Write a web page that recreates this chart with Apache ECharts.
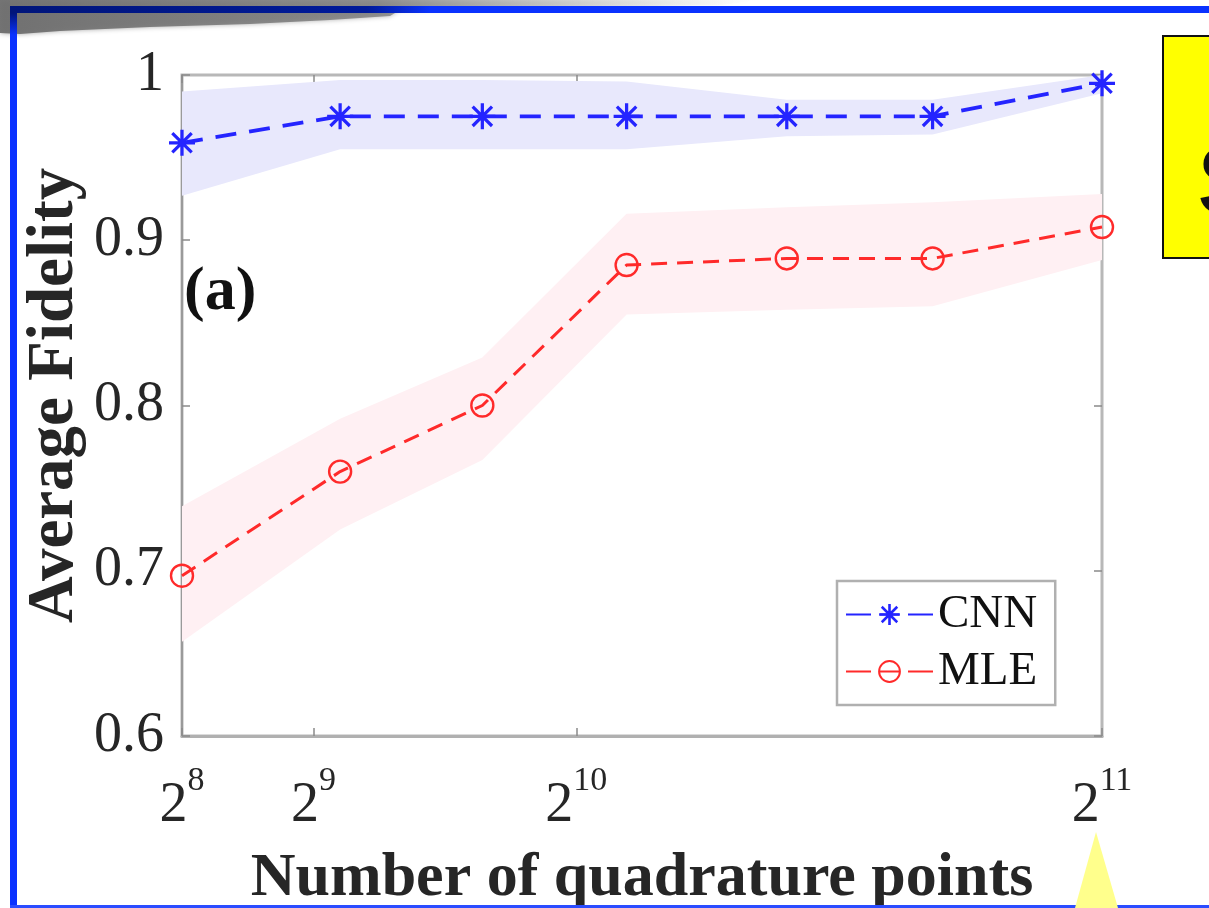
<!DOCTYPE html>
<html>
<head>
<meta charset="utf-8">
<script src="https://cdn.jsdelivr.net/npm/echarts@6/dist/echarts.min.js"></script>
<style>
html,body{margin:0;padding:0;background:#fff;}
#chart{width:1209px;height:908px;}
</style>
</head>
<body>
<div id="chart"></div>
<script>
// ---- data ----
const xVals = [256, 564, 841, 1122, 1434, 1718, 2048];
const cnnMean  = [0.959, 0.975, 0.975, 0.975, 0.975, 0.975, 0.995];
const cnnUpper = [0.990, 0.997, 0.997, 0.996, 0.985, 0.985, 1.000];
const cnnLower = [0.927, 0.955, 0.955, 0.955, 0.963, 0.964, 0.989];
const mleMean  = [0.697, 0.760, 0.800, 0.885, 0.889, 0.889, 0.908];
const mleUpper = [0.739, 0.792, 0.829, 0.916, 0.920, 0.923, 0.928];
const mleLower = [0.657, 0.725, 0.767, 0.855, 0.858, 0.860, 0.888];
const xTicks = [256, 512, 1024, 2048];
const xTickBase = '2';
const xTickExp = ['8', '9', '10', '11'];
const yTicks = [0.6, 0.7, 0.8, 0.9, 1];
const yTickLabels = ['0.6', '0.7', '0.8', '0.9', '1'];
const seriesNames = ['CNN', 'MLE'];
const xTitle = 'Number of quadrature points';
const yTitle = 'Average Fidelity';
const panelLabel = '(a)';
const noteText = 'S';

const SERIF = '"Liberation Serif","Times New Roman",serif';
const BLUE = '#2424ff';
const RED = '#ff2a2a';
const STAR = 'path://M10.5 0H13.5V24H10.5Z M0 10.5H24V13.5H0Z M4.1 2L22 19.9L19.9 22L2 4.1Z M19.9 2L22 4.1L4.1 22L2 19.9Z';

function bandRenderer(upper, lower, fill) {
  return function (params, api) {
    const pts = [];
    for (let i = 0; i < xVals.length; i++) pts.push(api.coord([xVals[i], upper[i]]));
    for (let i = xVals.length - 1; i >= 0; i--) pts.push(api.coord([xVals[i], lower[i]]));
    return { type: 'polygon', shape: { points: pts }, style: { fill: fill } };
  };
}

const chart = echarts.init(document.getElementById('chart'), null, { renderer: 'canvas' });
const option = {
  animation: false,
  backgroundColor: '#ffffff',
  grid: { left: 182, top: 75, right: 107, bottom: 172, show: true, borderColor: '#b8b8b8', borderWidth: 3,
          backgroundColor: 'transparent', containLabel: false, outerBoundsMode: 'none' },
  xAxis: [{
    type: 'value', min: 256, max: 2048, position: 'bottom',
    splitLine: { show: false },
    axisLine: { show: true, lineStyle: { color: '#b0b0b0', width: 3 } },
    axisTick: { show: true, inside: true, length: 8, customValues: xTicks, lineStyle: { color: '#8a8a8a', width: 1.5 } },
    axisLabel: {
      show: true, customValues: xTicks, margin: 28,
      formatter: function (v) {
        const i = xTicks.indexOf(v);
        return '{b|' + xTickBase + '}{s|' + xTickExp[i] + '}';
      },
      rich: {
        b: { fontFamily: SERIF, fontSize: 56, lineHeight: 70, color: '#262626', verticalAlign: 'bottom' },
        s: { fontFamily: SERIF, fontSize: 34, lineHeight: 34, color: '#262626', verticalAlign: 'top' }
      }
    },
    name: xTitle, nameLocation: 'middle', nameGap: 112, nameMoveOverlap: false,
    nameTextStyle: { fontFamily: SERIF, fontSize: 62, fontWeight: 'bold', color: '#262626' }
  }, {
    type: 'value', min: 256, max: 2048, position: 'top',
    splitLine: { show: false }, axisLabel: { show: false },
    axisLine: { show: false },
    axisTick: { show: true, inside: true, length: 8, customValues: xTicks, lineStyle: { color: '#8a8a8a', width: 1.5 } }
  }],
  yAxis: [{
    type: 'value', min: 0.6, max: 1, interval: 0.1, position: 'left',
    splitLine: { show: false },
    axisLine: { show: true, lineStyle: { color: '#9a9a9a', width: 2 } },
    axisTick: { show: true, inside: true, length: 8, lineStyle: { color: '#8a8a8a', width: 1.5 } },
    axisLabel: {
      margin: 18, fontFamily: SERIF, fontSize: 56, color: '#262626',
      formatter: function (v) {
        const i = yTicks.findIndex(t => Math.abs(t - v) < 1e-6);
        return i >= 0 ? yTickLabels[i] : '';
      }
    },
    name: yTitle, nameLocation: 'middle', nameGap: 94, nameMoveOverlap: false,
    nameTextStyle: { fontFamily: SERIF, fontSize: 65, fontWeight: 'bold', color: '#262626', padding: [0, 0, 0, 20] }
  }, {
    type: 'value', min: 0.6, max: 1, interval: 0.1, position: 'right',
    splitLine: { show: false }, axisLabel: { show: false }, axisLine: { show: false },
    axisTick: { show: true, inside: true, length: 8, lineStyle: { color: '#8a8a8a', width: 1.5 } }
  }],
  legend: {
    data: seriesNames, orient: 'vertical', left: 837, top: 581,
    padding: [10, 18, 10, 8], itemGap: 10, itemWidth: 87, itemHeight: 26,
    backgroundColor: '#ffffff', borderColor: '#b0b0b0', borderWidth: 2.5, borderRadius: 0,
    lineStyle: { type: [25, 9, 19, 9, 25] },
    textStyle: { fontFamily: SERIF, fontSize: 47, color: '#111111' }
  },
  series: [
    { type: 'custom', name: 'CNN band', xAxisIndex: 0, yAxisIndex: 0, data: [0], z: 1, silent: true,
      renderItem: bandRenderer(cnnUpper, cnnLower, '#e8e8fc') },
    { type: 'custom', name: 'MLE band', xAxisIndex: 0, yAxisIndex: 0, data: [0], z: 1, silent: true,
      renderItem: bandRenderer(mleUpper, mleLower, '#fff0f3') },
    { type: 'line', name: seriesNames[0], xAxisIndex: 0, yAxisIndex: 0, z: 4,
      data: xVals.map((x, i) => [x, cnnMean[i]]),
      symbol: STAR, symbolSize: 26,
      itemStyle: { color: BLUE },
      lineStyle: { color: BLUE, width: 3.8, type: [21, 13] } },
    { type: 'line', name: seriesNames[1], xAxisIndex: 0, yAxisIndex: 0, z: 4,
      data: xVals.map((x, i) => [x, mleMean[i]]),
      symbol: 'circle', symbolSize: 22,
      itemStyle: { color: 'rgba(255,255,255,0)', borderColor: RED, borderWidth: 2.4 },
      lineStyle: { color: RED, width: 3, type: [16, 10] } }
  ],
  graphic: [
    // panel label
    { type: 'text', left: 184, top: 262, z: 10,
      style: { text: panelLabel, font: 'bold 62px ' + SERIF, fill: '#111' } },
    // grey smudge at top-left (behind the frame)
    { type: 'polygon', z: 19,
      shape: { points: [[0, 0], [760, 0], [720, 5], [520, 8], [400, 10], [390, 16], [330, 20], [250, 24], [150, 27], [60, 31], [20, 34], [0, 33]] },
      style: { fill: new echarts.graphic.LinearGradient(0, 0, 1, 0, [
        { offset: 0, color: 'rgba(110,110,110,0.95)' },
        { offset: 0.5, color: 'rgba(125,125,125,0.8)' },
        { offset: 1, color: 'rgba(210,210,210,0)' }
      ]), shadowBlur: 5, shadowColor: 'rgba(120,120,120,0.7)' } },
    // blue frame
    { type: 'rect', shape: { x: 10, y: 6, width: 1199, height: 7 }, style: { fill: '#0a32ff' }, z: 20 },
    { type: 'rect', shape: { x: 10, y: 6, width: 7, height: 902 }, style: { fill: '#0a32ff' }, z: 20 },
    { type: 'rect', shape: { x: 10, y: 905, width: 1199, height: 3 }, style: { fill: '#2a4cff' }, z: 20 },
    // darkened part of the frame under the smudge
    { type: 'rect', z: 21, shape: { x: 10, y: 6, width: 420, height: 7 },
      style: { fill: new echarts.graphic.LinearGradient(0, 0, 1, 0, [
        { offset: 0, color: '#00157a' }, { offset: 0.85, color: '#001a9a' }, { offset: 1, color: '#0a32ff' }
      ]) } },
    { type: 'rect', z: 21, shape: { x: 10, y: 13, width: 7, height: 22 },
      style: { fill: new echarts.graphic.LinearGradient(0, 0, 0, 1, [
        { offset: 0, color: '#00157a' }, { offset: 1, color: '#0a32ff' }
      ]) } },
    // yellow note box
    { type: 'rect', z: 22, shape: { x: 1163, y: 36, width: 60, height: 222 },
      style: { fill: '#ffff00', stroke: '#111', lineWidth: 2 } },
    { type: 'text', z: 23, left: 1196, top: 140,
      style: { text: noteText, font: '96px "Liberation Sans",Arial,sans-serif', fill: '#111' } },
    // yellow pointer triangle
    { type: 'polygon', z: 22, shape: { points: [[1096, 832], [1118, 908], [1075, 908]] },
      style: { fill: '#ffff8c' } }
  ]
};
chart.setOption(option);
</script>
</body>
</html>
